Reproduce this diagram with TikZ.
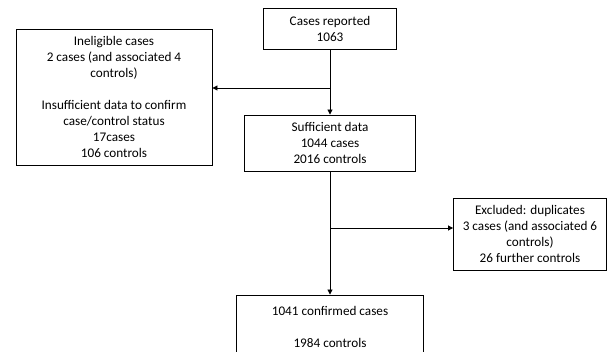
\documentclass[tikz,border=0pt]{standalone}
\usepackage{fontspec}
\setmainfont{Carlito}
\usetikzlibrary{arrows.meta}
\begin{document}
\begin{tikzpicture}[x=1pt,y=-1pt,
  box/.style={draw, line width=0.9pt, align=center, inner sep=0pt, font=\fontsize{13.2}{16}\selectfont},
  conn/.style={line width=0.9pt, -{Triangle[length=5pt,width=5pt]}}]
\useasboundingbox (0,0) rectangle (607,352);
\clip (0,0) rectangle (607,352);
\fill[white] (0,0) rectangle (607,352);
\node[box, minimum width=133pt, minimum height=41pt] (rep) at (330,28.5) {Cases reported\\1063};
\node[box, minimum width=196pt, minimum height=136pt] (inel) at (114,97) {Ineligible cases\\2 cases (and associated 4\\controls)\\[16pt]Insufficient data to confirm\\case/control status\\17cases\\106 controls};
\node[box, minimum width=171pt, minimum height=56pt] (suff) at (330,143) {Sufficient data\\1044 cases\\2016 controls};
\node[box, minimum width=153pt, minimum height=72pt] (excl) at (530,234) {Excluded: duplicates\\3 cases (and associated 6\\controls)\\26 further controls};
\node[box, minimum width=187pt, minimum height=64pt] (conf) at (330,327) {1041 confirmed cases\\[16pt]1984 controls};
\coordinate (b1) at (330,88);
\coordinate (b2) at (330,228);
\draw[conn] (rep.south) -- (suff.north);
\draw[conn] (b1) -- (b1 -| inel.east);
\draw[conn] (suff.south) -- (conf.north);
\draw[conn] (b2) -- (b2 -| excl.west);
\end{tikzpicture}
\end{document}
